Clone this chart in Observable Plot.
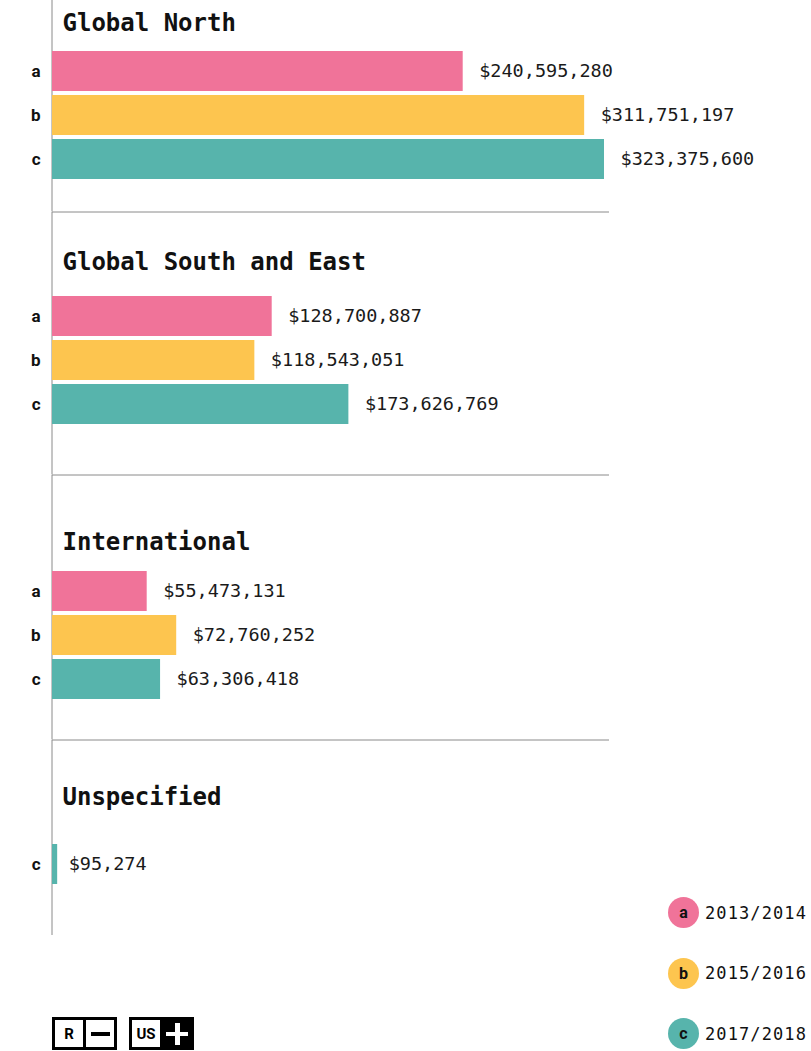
<!DOCTYPE html>
<html>
<head>
<meta charset="utf-8">
<script src="https://cdn.jsdelivr.net/npm/d3@7"></script>
<script src="https://cdn.jsdelivr.net/npm/@observablehq/plot@0.6"></script>
<style>
  html, body { margin: 0; padding: 0; background: #fff; }
  #page { position: relative; width: 811px; height: 1051px; overflow: hidden; }
  #chart svg { display: block; }
  .legend { position: absolute; left: 668px; top: 897px; font-family: "DejaVu Sans Mono", "Liberation Mono", monospace; font-size: 17px; letter-spacing: 1.1px; color: #111; }
  .legend .row { display: flex; align-items: center; height: 31px; margin-bottom: 29.5px; }
  .legend .dot { width: 31px; height: 31px; border-radius: 50%; display: flex; align-items: center; justify-content: center; font-family: Roboto, sans-serif; font-weight: bold; font-size: 16px; letter-spacing: 0; color: #111; margin-right: 6px; }
  .logo { position: absolute; left: 52px; top: 1017px; display: flex; gap: 12px; }
  .box { width: 65px; height: 33px; border: 3px solid #000; box-sizing: border-box; display: flex; }
  .box .half { flex: 1; display: flex; align-items: center; justify-content: center; font-family: Roboto, sans-serif; font-weight: bold; font-size: 15px; color: #000; }
  .box .half:first-child { border-right: 3px solid #000; }
  .box .inv { background: #000; position: relative; }
  .dash { width: 19px; height: 4px; background: #000; }
  .plus { position: relative; width: 22px; height: 22px; }
  .plus::before, .plus::after { content: ""; position: absolute; background: #fff; }
  .plus::before { left: 0; top: 9px; width: 22px; height: 4.5px; }
  .plus::after { top: 0; left: 9px; width: 4.5px; height: 22px; }
</style>
</head>
<body>
<div id="page">
  <div id="chart"></div>
  <div class="legend" id="legend"></div>
  <div class="logo">
    <div class="box"><div class="half">R</div><div class="half"><div class="dash"></div></div></div>
    <div class="box"><div class="half">US</div><div class="half inv"><div class="plus"></div></div></div>
  </div>
</div>
<script>
// ---- data ----
const categories = ["Global North", "Global South and East", "International", "Unspecified"];
const codes = ["a", "b", "c"];
const periods = ["2013/2014", "2015/2016", "2017/2018"];
const values2013_2014 = [240595280, 128700887, 55473131, null];
const values2015_2016 = [311751197, 118543051, 72760252, null];
const values2017_2018 = [323375600, 173626769, 63306418, 95274];
const colors = ["#f07399", "#fdc54f", "#57b4ac"];

const series = [values2013_2014, values2015_2016, values2017_2018];
const rows = categories.flatMap((category, i) =>
  codes.map((code, j) => ({category, code, period: periods[j], value: series[j][i]}))
       .filter(d => d.value != null));
const maxValue = d3.max(rows, d => d.value);
const fmt = v => "$" + d3.format(",")(v);

// ---- layout per section (styling only) ----
const layout = [
  {height: 212, insetTop: 47, insetBottom: 28.5, titleY: 22.7, sep: true},
  {height: 263, insetTop: 80, insetBottom: 46.5, titleY: 50.3, sep: true},
  {height: 265, insetTop: 92, insetBottom: 36.5, titleY: 66.7, sep: true},
  {height: 195, insetTop: 100, insetBottom: 47, titleY: 56.7, sep: false}
];

const mono = "'DejaVu Sans Mono', 'Liberation Mono', monospace";
const chart = document.getElementById("chart");

categories.forEach((cat, i) => {
  const L = layout[i];
  const data = rows.filter(d => d.category === cat);
  const plot = Plot.plot({
    width: 811,
    height: L.height,
    marginLeft: 52,
    marginRight: 203,
    marginTop: 0,
    marginBottom: L.sep ? 0.5 : 0,
    insetTop: L.insetTop,
    insetBottom: L.insetBottom,
    insetRight: 4,
    x: {domain: [0, maxValue], axis: null},
    y: {domain: data.map(d => d.code), padding: 4 / 44, label: null},
    color: {domain: codes, range: colors},
    style: {background: "transparent", overflow: "visible"},
    marks: [
      Plot.ruleX([0], {stroke: "#8a8a8a", strokeWidth: 1, dx: -0.5}),
      L.sep ? Plot.frame({anchor: "bottom", stroke: "#8a8a8a", strokeWidth: 1}) : null,
      Plot.barX(data, {x: "value", y: "code", fill: "code"}),
      Plot.barX(data, {filter: d => d.value / maxValue < 0.01, x: "value", y: "code", fill: "code", insetRight: -5}),
      Plot.text(data, {x: "value", y: "code", text: d => fmt(d.value), textAnchor: "start", dx: 16,
        fontFamily: mono, fontSize: 18.5, fill: "#1a1a1a"}),
      Plot.text([cat], {frameAnchor: "top-left", dx: 10, dy: L.titleY, lineAnchor: "middle", textAnchor: "start",
        text: d => d, fontFamily: mono, fontWeight: "bold", fontSize: 24, fill: "#111"}),
      Plot.axisY({tickSize: 0, tickPadding: 12, fontFamily: "Roboto, sans-serif", fontWeight: "bold",
        fontSize: 17, fill: "#111", label: null})
    ]
  });
  chart.appendChild(plot);
});

// ---- legend ----
const legend = document.getElementById("legend");
codes.forEach((c, j) => {
  const row = document.createElement("div");
  row.className = "row";
  const dot = document.createElement("div");
  dot.className = "dot";
  dot.style.background = colors[j];
  dot.textContent = c;
  const lab = document.createElement("span");
  lab.textContent = periods[j];
  row.appendChild(dot);
  row.appendChild(lab);
  legend.appendChild(row);
});
</script>
</body>
</html>
